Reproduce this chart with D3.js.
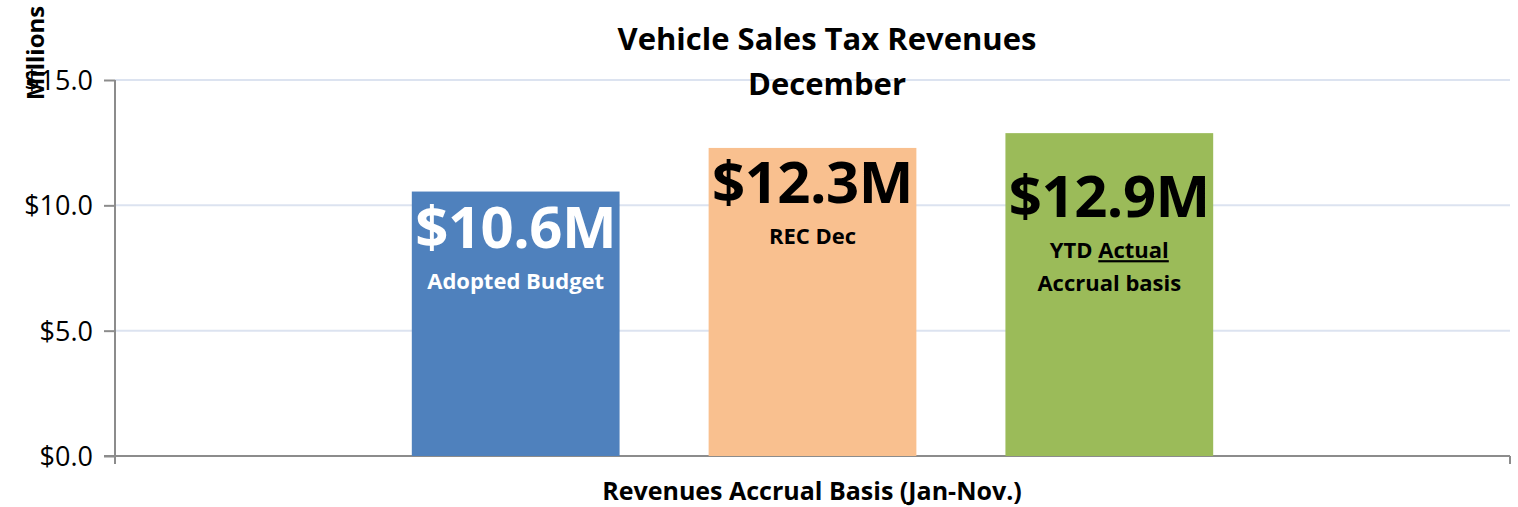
<!DOCTYPE html>
<html>
<head>
<meta charset="utf-8">
<script src="https://cdn.jsdelivr.net/npm/d3@7"></script>
<style>
  body { margin: 0; background: #fff; }
  svg text { font-family: "Open Sans", Lato, sans-serif; }
</style>
</head>
<body>
<div id="chart"></div>
<script>
var categories = ['Adopted Budget', 'REC Dec', 'YTD Actual Accrual basis'];
var values = [10.55, 12.29, 12.88];
var valueLabels = ['$10.6M', '$12.3M', '$12.9M'];
var yTicks = [0, 5, 10, 15];
var barColors = ['#4f81bd', '#f9c08f', '#9bbb59'];

var opts = {
    width: 1518,
    height: 507,
    margins: { top: 80, right: 8, bottom: 51, left: 115 }
};

var chartW = opts.width - opts.margins.left - opts.margins.right;
var chartH = opts.height - opts.margins.top - opts.margins.bottom;

var svg = d3.select('#chart').append('svg')
    .attr('width', opts.width)
    .attr('height', opts.height);

var g = svg.append('g')
    .attr('transform', 'translate(' + opts.margins.left + ',' + opts.margins.top + ')');

var x = d3.scaleBand().domain(categories).range([0, chartW])
    .paddingInner(0.3).paddingOuter(1.0);
var y = d3.scaleLinear().domain([0, 15]).range([chartH, 0]);

// gridlines
g.selectAll('line.grid')
    .data(yTicks.filter(function(t) { return t > 0; }))
    .enter().append('line')
    .attr('class', 'grid')
    .attr('x1', 0).attr('x2', chartW)
    .attr('y1', function(d) { return y(d); })
    .attr('y2', function(d) { return y(d); })
    .style('stroke', '#dce3f0')
    .style('stroke-width', 2);

// y axis
var yAxis = g.append('g')
    .call(d3.axisLeft(y).tickValues(yTicks).tickSize(11).tickPadding(11)
        .tickFormat(function(d) { return '$' + d3.format('.1f')(d); }));
yAxis.select('.domain').style('stroke', '#8c8c8c').style('stroke-width', 2)
    .attr('d', 'M0,' + chartH + 'V0');
yAxis.selectAll('.tick line').style('stroke', '#8c8c8c').style('stroke-width', 2);
yAxis.selectAll('.tick text').style('font-size', '27px').style('fill', '#000')
    .attr('dy', '0.35em').style('font-family', '"Open Sans", sans-serif');

// x axis line with end ticks
g.append('line')
    .attr('x1', -11).attr('x2', chartW)
    .attr('y1', chartH).attr('y2', chartH)
    .style('stroke', '#8c8c8c').style('stroke-width', 2);
[0, chartW].forEach(function(px) {
    g.append('line')
        .attr('x1', px).attr('x2', px)
        .attr('y1', chartH).attr('y2', chartH + 8)
        .style('stroke', '#8c8c8c').style('stroke-width', 2);
});

// bars
g.selectAll('rect.bar')
    .data(values)
    .enter().append('rect')
    .attr('class', 'bar')
    .attr('x', function(d, i) { return x(categories[i]); })
    .attr('width', x.bandwidth())
    .attr('y', function(d) { return y(d); })
    .attr('height', function(d) { return chartH - y(d); })
    .style('fill', function(d, i) { return barColors[i]; });

// value labels inside bars
var labelOffsets = [56, 55, 84]; // px below bar top to value baseline
var textColors = ['#fff', '#000', '#000'];
values.forEach(function(v, i) {
    var cx = x(categories[i]) + x.bandwidth() / 2;
    var top = y(v);
    g.append('text')
        .attr('x', cx).attr('y', top + labelOffsets[i])
        .attr('text-anchor', 'middle')
        .style('font-size', '58px').style('font-weight', 'bold')
        .style('letter-spacing', '-0.5px')
        .style('fill', textColors[i])
        .text(valueLabels[i]);
    var sub = g.append('text')
        .attr('x', cx).attr('y', top + labelOffsets[i] + 41)
        .attr('text-anchor', 'middle')
        .style('font-size', '22px').style('font-weight', 'bold')
        .style('fill', textColors[i]);
    if (i === 2) {
        sub.append('tspan').text('YTD ');
        sub.append('tspan').style('text-decoration', 'underline').text('Actual');
        g.append('text')
            .attr('x', cx).attr('y', top + labelOffsets[i] + 74)
            .attr('text-anchor', 'middle')
            .style('font-size', '22px').style('font-weight', 'bold')
            .style('fill', textColors[i])
            .text('Accrual basis');
    } else {
        sub.text(categories[i]);
    }
});

// titles
svg.append('text')
    .attr('x', 827).attr('y', 50)
    .attr('text-anchor', 'middle')
    .style('font-size', '31px').style('font-weight', 'bold')
    .text('Vehicle Sales Tax Revenues');
svg.append('text')
    .attr('x', 827).attr('y', 95)
    .attr('text-anchor', 'middle')
    .style('font-size', '31px').style('font-weight', 'bold')
    .text('December');

// axis titles
svg.append('text')
    .attr('transform', 'translate(44,53) rotate(-90)')
    .attr('text-anchor', 'middle')
    .style('font-size', '24px').style('font-weight', 'bold')
    .text('Millions');
svg.append('text')
    .attr('x', 812).attr('y', 500)
    .attr('text-anchor', 'middle')
    .style('font-size', '25px').style('font-weight', 'bold')
    .text('Revenues Accrual Basis (Jan-Nov.)');
</script>
</body>
</html>
